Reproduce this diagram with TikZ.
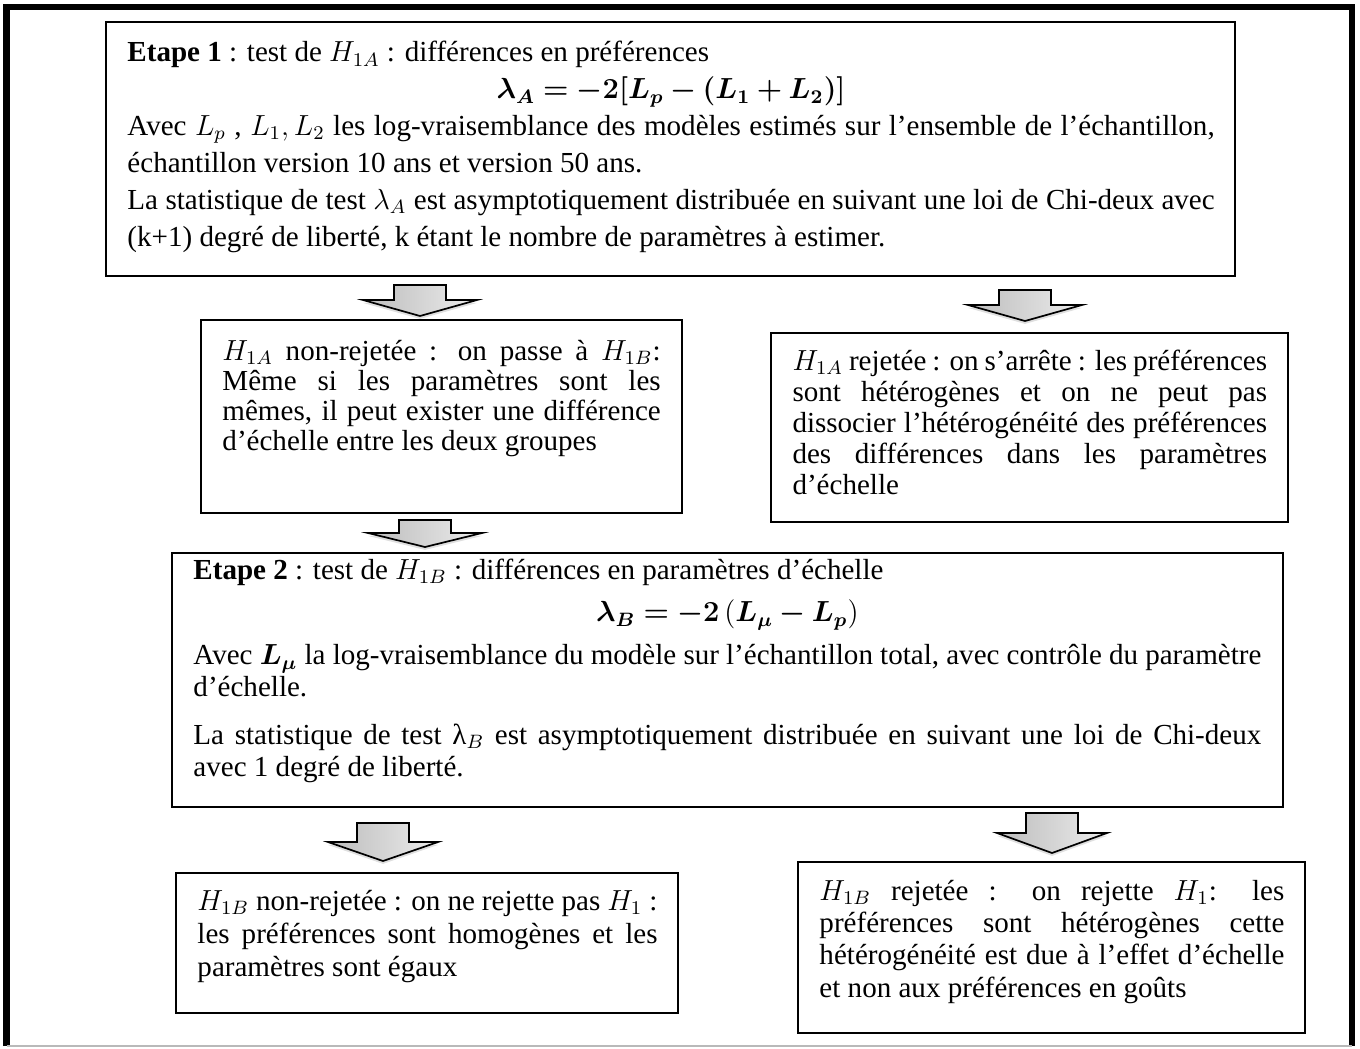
\documentclass[tikz,border=0pt]{standalone}
\usepackage{fontspec}
\setmainfont{Liberation Serif}
\usepackage{amsmath}
\usepackage{bm}
\usetikzlibrary{fit,shadows}
\definecolor{flecheG}{RGB}{188,188,188}
\definecolor{flecheC}{RGB}{236,236,236}
\hbadness=10000
\newcommand{\fleche}[5]{%
  \path[flechebloc] (#1-26,#2) -- (#1+26,#2) -- (#1+26,#2+#3) -- (#1+#5,#2+#3)
    -- (#1,#2+#4) -- (#1-#5,#2+#3) -- (#1-26,#2+#3) -- cycle;}
\tikzset{
  cadre/.style={rectangle, draw=black, line width=0.9pt, fill=white, inner sep=0pt,
                drop shadow={shadow xshift=0.5pt, shadow yshift=-0.5pt, opacity=0.35}},
  texte/.style 2 args={anchor=base west, inner sep=0pt, align=justify, text width=#1,
                       font=\fontsize{12}{#2}\selectfont},
  flechebloc/.style={draw=black, line width=0.7pt, left color=flecheG, right color=flecheC,
                     drop shadow={shadow xshift=0pt, shadow yshift=-1.2pt, opacity=0.25}},
}

\begin{document}
\begin{tikzpicture}[x=0.413pt, y=-0.413pt, font=\fontsize{12}{13.2}\selectfont]
  \useasboundingbox (0,0) rectangle (1360,1048);
  \draw[line width=2.6pt] (6.5,1046) -- (6.5,7) -- (1352,7) -- (1352,1046);
  \draw[gray!55, line width=0.8pt] (6.5,1046) -- (1352,1046);

  \node[cadre, fit={(106,22) (1235,276)}] (b1) {};
  \node[cadre, fit={(201,320) (682,513)}] (b2) {};
  \node[cadre, fit={(771,333) (1288,522)}] (b3) {};
  \node[cadre, fit={(172,553) (1283,807)}] (b4) {};
  \node[cadre, fit={(176,873) (678,1013)}] (b5) {};
  \node[cadre, fit={(798,862) (1305,1033)}] (b6) {};

  \node[texte={449pt}{15.2pt}] (t1) at (127,62) {
    \textbf{Etape 1} : test de $H_{1A}$ : différences en préférences\par
    {\centering $\bm{\lambda_A = -2[L_p - (L_1 + L_2)]}$\par}
    Avec $L_p$ , $L_1, L_2$ les log-vraisemblance des modèles estimés sur l'ensemble de l'échantillon,\linebreak
    échantillon version 10 ans et version 50 ans.\par
    La statistique de test $\lambda_A$ est asymptotiquement distribuée en suivant une loi de Chi-deux avec\linebreak
    (k+1) degré de liberté, k étant le nombre de paramètres à estimer.};

  \node[texte={181pt}{12.4pt}] (t2) at (222,360) {
    $H_{1A}$ non-rejetée : on passe à $H_{1B}$:\linebreak Même si les paramètres sont les\linebreak
    mêmes, il peut exister une différence\linebreak d'échelle entre les deux groupes};

  \node[texte={196pt}{12.9pt}] (t3) at (792,370) {
    $H_{1A}$ rejetée : on s'arrête : les préférences\linebreak sont hétérogènes et on ne peut pas\linebreak
    dissocier l'hétérogénéité des préférences\linebreak des différences dans les paramètres\linebreak d'échelle};

  \node[texte={441pt}{13.2pt}] (t4) at (193,579) {
    \textbf{Etape 2} : test de $H_{1B}$ : différences en paramètres d'échelle\par\vspace{4.5pt}
    {\centering $\bm{\lambda_B = -2\left(L_\mu - L_p\right)}$\par}\vspace{4.5pt}
    Avec $\bm{L_\mu}$ la log-vraisemblance du modèle sur l'échantillon total, avec contrôle du paramètre\linebreak
    d'échelle.\par\vspace{6.5pt}
    La statistique de test λ$_B$ est asymptotiquement distribuée en suivant une loi de Chi-deux\linebreak
    avec 1 degré de liberté.};

  \node[texte={190pt}{13.8pt}] (t5) at (197,910) {
    $H_{1B}$ non-rejetée : on ne rejette pas $H_1$ :\linebreak les préférences sont homogènes et les\linebreak
    paramètres sont égaux};

  \node[texte={192pt}{13.4pt}] (t6) at (819,900) {
    $H_{1B}$ rejetée : on rejette $H_1$: les\linebreak préférences sont hétérogènes cette\linebreak
    hétérogénéité est due à l'effet d'échelle\linebreak et non aux préférences en goûts};

  \fleche{420}{285}{15}{31}{57}
  \fleche{1025}{290}{15}{31}{57}
  \fleche{425}{520}{13}{27}{57}
  \fleche{383}{823}{19}{38}{55}
  \fleche{1052}{813}{20}{40}{55}
\end{tikzpicture}
\end{document}
